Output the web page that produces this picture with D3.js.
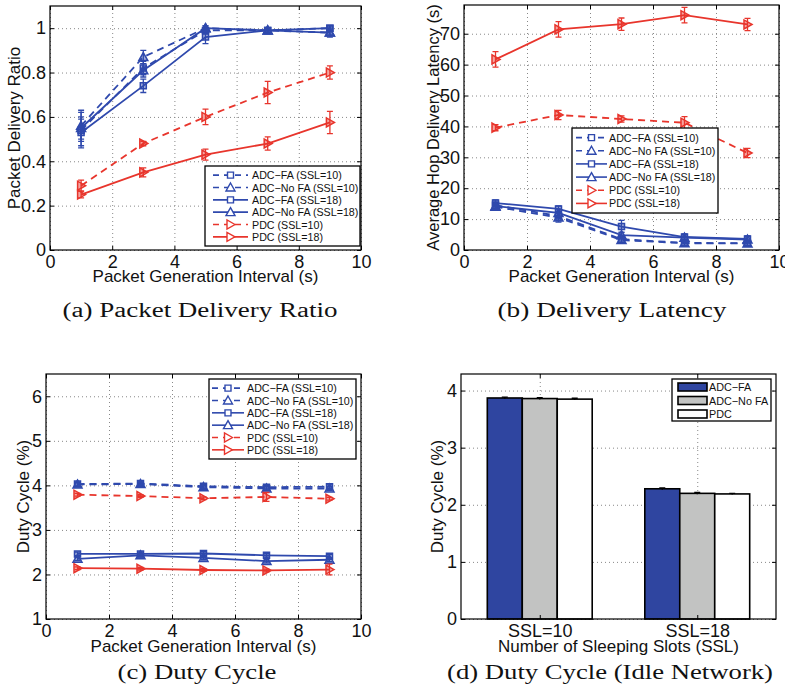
<!DOCTYPE html>
<html>
<head>
<meta charset="utf-8">
<script src="https://cdn.jsdelivr.net/npm/d3@7"></script>
<style>
  body { margin: 0; background: #fff; }
  svg { display: block; }
</style>
</head>
<body>
<div id="wrapper"></div>
<script>
// ---- data ----
const intervals = [1, 3, 5, 7, 9]
const seriesLabels = ["ADC\u2212FA (SSL=10)", "ADC\u2212No FA (SSL=10)", "ADC\u2212FA (SSL=18)",
  "ADC\u2212No FA (SSL=18)", "PDC (SSL=10)", "PDC (SSL=18)"]

// (a) packet delivery ratio, one row per series (same order as seriesLabels)
const pdrMeans = [
  [0.54, 0.82, 0.99, 0.99, 1.00],
  [0.56, 0.87, 1.00, 0.99, 0.98],
  [0.53, 0.74, 0.96, 0.99, 1.00],
  [0.55, 0.81, 1.00, 0.99, 0.98],
  [0.29, 0.48, 0.60, 0.71, 0.80],
  [0.25, 0.35, 0.43, 0.48, 0.575]
]
const pdrErrors = [
  [0.08, 0.03, 0.01, 0.01, 0.01],
  [0.07, 0.03, 0.01, 0.01, 0.01],
  [0.06, 0.03, 0.03, 0.01, 0.01],
  [0.05, 0.03, 0.01, 0.01, 0.02],
  [0.025, 0.01, 0.035, 0.05, 0.03],
  [0.015, 0.02, 0.025, 0.03, 0.05]
]

// (b) average hop delivery latency (s)
const latencyMeans = [
  [14.5, 11.0, 3.5, 2.3, 2.2],
  [14.0, 10.5, 3.2, 2.2, 2.1],
  [15.2, 13.3, 7.6, 4.2, 3.6],
  [14.2, 12.0, 4.8, 4.0, 3.4],
  [39.6, 43.7, 42.4, 41.2, 31.4],
  [61.7, 71.4, 73.1, 76.0, 73.0]
]
const latencyErrors = [
  [1.0, 1.5, 1.2, 0.8, 0.8],
  [1.0, 1.5, 1.0, 0.8, 0.8],
  [1.0, 1.0, 2.0, 1.0, 1.0],
  [1.0, 1.2, 1.0, 1.0, 1.0],
  [1.0, 1.5, 1.0, 2.0, 1.5],
  [2.5, 2.5, 2.0, 2.5, 2.0]
]

// (c) duty cycle (%)
const dutyMeans = [
  [4.03, 4.04, 3.98, 3.96, 3.97],
  [4.02, 4.03, 3.96, 3.93, 3.93],
  [2.46, 2.46, 2.47, 2.43, 2.41],
  [2.35, 2.43, 2.37, 2.30, 2.33],
  [3.79, 3.76, 3.71, 3.74, 3.70],
  [2.14, 2.13, 2.10, 2.09, 2.11]
]
const dutyErrors = [
  [0.04, 0.04, 0.04, 0.04, 0.04],
  [0.04, 0.04, 0.04, 0.04, 0.04],
  [0.04, 0.04, 0.04, 0.04, 0.04],
  [0.04, 0.04, 0.04, 0.04, 0.04],
  [0.03, 0.03, 0.03, 0.10, 0.03],
  [0.03, 0.03, 0.03, 0.03, 0.12]
]

// (d) idle network duty cycle bars
const sslGroups = ["SSL=10", "SSL=18"]
const barSchemes = ["ADC\u2212FA", "ADC\u2212No FA", "PDC"]
const idleDuty = [
  [3.87, 3.86, 3.85],
  [2.28, 2.20, 2.19]
]
const idleErrors = [
  [0.015, 0.015, 0.015],
  [0.015, 0.015, 0.01]
]

// ---- style ----
const blue = "#2f49ad"
const red = "#e8352c"
const barFill = ["#2f45a0", "#c2c3c2", "#fff"]
const seriesStyle = [
  {color: blue, dash: true, marker: "square"},
  {color: blue, dash: true, marker: "triangle"},
  {color: blue, dash: false, marker: "square"},
  {color: blue, dash: false, marker: "triangle"},
  {color: red, dash: true, marker: "right"},
  {color: red, dash: false, marker: "right"}
]
const sansFont = "'Liberation Sans', Arial, sans-serif"
const serifFont = "'Liberation Serif', 'Times New Roman', serif"

const svg = d3.select("#wrapper")
  .append("svg")
  .attr("width", 785)
  .attr("height", 694)

function markerPath(type, cx, cy) {
  if (type === "square") {
    const s = 3
    return `M${cx - s},${cy - s}H${cx + s}V${cy + s}H${cx - s}Z`
  }
  if (type === "triangle") {
    return `M${cx},${cy - 4.5}L${cx + 4.5},${cy + 3.5}L${cx - 4.5},${cy + 3.5}Z`
  }
  return `M${cx + 4.5},${cy}L${cx - 3.5},${cy - 4.5}L${cx - 3.5},${cy + 4.5}Z`
}

// frame: box, inward ticks on all sides, dotted grid
function drawFrame(g, box, xScale, yScale, xTicks, yTicks, xFormat, yFormat) {
  const w = box.right - box.left
  const h = box.bottom - box.top

  g.append("g")
    .attr("transform", `translate(0,${h})`)
    .call(d3.axisBottom(xScale).tickValues(xTicks).tickSize(-h).tickFormat(""))
    .call(a => a.select(".domain").remove())
    .call(a => a.selectAll("line").attr("stroke", "#888").attr("stroke-dasharray", "1,3"))
  g.append("g")
    .call(d3.axisLeft(yScale).tickValues(yTicks).tickSize(-w).tickFormat(""))
    .call(a => a.select(".domain").remove())
    .call(a => a.selectAll("line").attr("stroke", "#888").attr("stroke-dasharray", "1,3"))

  const frame = g.append("g").attr("class", "frame")
  frame.append("g")
    .attr("transform", `translate(0,${h})`)
    .call(d3.axisBottom(xScale).tickValues(xTicks).tickSizeInner(-4).tickSizeOuter(0)
      .tickPadding(5).tickFormat(xFormat))
  frame.append("g")
    .call(d3.axisTop(xScale).tickValues(xTicks).tickSizeInner(-4).tickSizeOuter(0).tickFormat(""))
  frame.append("g")
    .call(d3.axisLeft(yScale).tickValues(yTicks).tickSizeInner(-4).tickSizeOuter(0)
      .tickPadding(4).tickFormat(yFormat))
  frame.append("g")
    .attr("transform", `translate(${w},0)`)
    .call(d3.axisRight(yScale).tickValues(yTicks).tickSizeInner(-4).tickSizeOuter(0).tickFormat(""))
  frame.selectAll(".domain").remove()
  frame.selectAll(".tick line").attr("stroke", "#000")
  frame.selectAll(".tick text")
    .attr("fill", "#111")
    .style("font-size", "18px")
    .style("font-family", sansFont)

  frame.append("rect")
    .attr("width", w)
    .attr("height", h)
    .attr("fill", "none")
    .attr("stroke", "#000")
    .attr("stroke-width", 1.2)
}

function drawLabels(g, box, xLabel, yLabel, xLabelOffset, yLabelX, fontSize) {
  const w = box.right - box.left
  const h = box.bottom - box.top
  g.append("text")
    .attr("x", w / 2)
    .attr("y", h + xLabelOffset)
    .attr("text-anchor", "middle")
    .style("font-size", "17px")
    .style("font-family", sansFont)
    .attr("fill", "#111")
    .text(xLabel)
  g.append("text")
    .attr("transform", `translate(${yLabelX},${h / 2}) rotate(-90)`)
    .attr("text-anchor", "middle")
    .style("font-size", fontSize || "17px")
    .style("font-family", sansFont)
    .attr("fill", "#111")
    .text(yLabel)
}

function drawLinePanel(cfg) {
  const box = cfg.box
  const w = box.right - box.left
  const h = box.bottom - box.top
  const g = svg.append("g").attr("transform", `translate(${box.left},${box.top})`)
  const xScale = d3.scaleLinear().domain([0, 10]).range([0, w])
  const yScale = d3.scaleLinear().domain(cfg.yDomain).range([h, 0])

  drawFrame(g, box, xScale, yScale, d3.range(0, 11, 2), cfg.yTicks, d3.format("d"), cfg.yFormat)
  drawLabels(g, box, "Packet Generation Interval (s)", cfg.yLabel, cfg.xLabelOffset, cfg.yLabelX, cfg.yLabelSize)

  const line = d3.line()
    .x(d => xScale(d.x))
    .y(d => yScale(d.y))

  const plot = g.insert("g", ".frame")
  cfg.means.forEach((row, si) => {
    const st = seriesStyle[si]
    const pts = row.map((v, i) => ({x: intervals[i], y: v, e: cfg.errors[si][i]}))
    const sg = plot.append("g")
    sg.append("path")
      .datum(pts)
      .attr("d", line)
      .attr("fill", "none")
      .attr("stroke", st.color)
      .attr("stroke-width", 1.8)
      .attr("stroke-dasharray", st.dash ? "7,5" : null)
    sg.selectAll(".err")
      .data(pts)
      .join("path")
      .attr("class", "err")
      .attr("d", d => {
        const x = xScale(d.x), y0 = yScale(d.y - d.e), y1 = yScale(d.y + d.e)
        return `M${x},${y0}V${y1}M${x - 3},${y0}H${x + 3}M${x - 3},${y1}H${x + 3}`
      })
      .attr("fill", "none")
      .attr("stroke", st.color)
      .attr("stroke-width", 1.3)
    sg.selectAll(".mk")
      .data(pts)
      .join("path")
      .attr("class", "mk")
      .attr("d", d => markerPath(st.marker, xScale(d.x), yScale(d.y)))
      .attr("fill", st.color)
      .attr("fill-opacity", 0.45)
      .attr("stroke", st.color)
      .attr("stroke-width", 1.5)
  })

  // legend
  const lg = cfg.legend
  const lgG = svg.append("g").attr("transform", `translate(${lg.left},${lg.top})`)
  lgG.append("rect")
    .attr("width", lg.width)
    .attr("height", lg.height)
    .attr("fill", "#fff")
    .attr("stroke", "#000")
    .attr("stroke-width", 1.3)
  const rowH = (lg.height - 6) / seriesLabels.length
  seriesLabels.forEach((label, si) => {
    const st = seriesStyle[si]
    const cy = 3 + rowH * (si + 0.5)
    lgG.append("line")
      .attr("x1", lg.sampleX0)
      .attr("x2", lg.sampleX1)
      .attr("y1", cy)
      .attr("y2", cy)
      .attr("stroke", st.color)
      .attr("stroke-width", 1.6)
      .attr("stroke-dasharray", st.dash ? "6,5" : null)
    lgG.append("path")
      .attr("d", markerPath(st.marker, (lg.sampleX0 + lg.sampleX1) / 2, cy))
      .attr("fill", "#fff")
      .attr("stroke", st.color)
      .attr("stroke-width", 1.4)
    lgG.append("text")
      .attr("x", lg.textX)
      .attr("y", cy + 4)
      .style("font-size", "10.7px")
      .style("font-family", sansFont)
      .attr("fill", "#111")
      .text(label)
  })
}

function drawCaption(text, cx, y, width) {
  svg.append("text")
    .attr("x", cx)
    .attr("y", y)
    .attr("text-anchor", "middle")
    .attr("textLength", width)
    .attr("lengthAdjust", "spacingAndGlyphs")
    .style("font-size", "20px")
    .style("font-family", serifFont)
    .attr("fill", "#111")
    .text(text)
}

// (a)
drawLinePanel({
  box: {left: 50, right: 361, top: 6, bottom: 250},
  yDomain: [0, 1.1],
  yTicks: d3.range(0, 1.01, 0.2),
  yFormat: d => d === 0 ? "0" : (d === 1 ? "1" : d3.format(".1f")(d)),
  yLabel: "Packet Delivery Ratio",
  xLabelOffset: 32,
  yLabelX: -30,
  means: pdrMeans,
  errors: pdrErrors,
  legend: {left: 205, top: 166, width: 155, height: 80, sampleX0: 8, sampleX1: 43, textX: 47}
})

// (b)
drawLinePanel({
  box: {left: 464, right: 779, top: 5, bottom: 250},
  yDomain: [0, 79.3],
  yTicks: d3.range(0, 71, 10),
  yFormat: d3.format("d"),
  yLabel: "Average Hop Delivery Latency (s)",
  xLabelOffset: 32,
  yLabelX: -25,
  yLabelSize: "16.5px",
  means: latencyMeans,
  errors: latencyErrors,
  legend: {left: 572, top: 128, width: 146, height: 85, sampleX0: 4, sampleX1: 35, textX: 37}
})

// (c)
drawLinePanel({
  box: {left: 46, right: 361, top: 374, bottom: 619},
  yDomain: [1, 6.5],
  yTicks: d3.range(1, 6.1, 1),
  yFormat: d3.format("d"),
  yLabel: "Duty Cycle (%)",
  xLabelOffset: 33,
  yLabelX: -17,
  means: dutyMeans,
  errors: dutyErrors,
  legend: {left: 209, top: 379, width: 147, height: 80, sampleX0: 3, sampleX1: 35, textX: 38}
})

// (d) bars
{
  const box = {left: 461, right: 776, top: 374, bottom: 619}
  const w = box.right - box.left
  const h = box.bottom - box.top
  const g = svg.append("g").attr("transform", `translate(${box.left},${box.top})`)
  const xScale = d3.scaleLinear().domain([0.5, 2.5]).range([0, w])
  const yScale = d3.scaleLinear().domain([0, 4.29]).range([h, 0])
  const sub = d3.scaleBand().domain(barSchemes).range([-0.333, 0.333])

  drawFrame(g, box, xScale, yScale, [1, 2], d3.range(0, 4.1, 1),
    d => sslGroups[d - 1], d3.format("d"))
  drawLabels(g, box, "Number of Sleeping Slots (SSL)", "Duty Cycle (%)", 33, -18)

  // bars go over the grid, frame stays on top
  const barsG = g.insert("g", ".frame")
  idleDuty.forEach((row, gi) => {
    row.forEach((v, bi) => {
      const x0 = xScale(gi + 1 + sub(barSchemes[bi]))
      const x1 = xScale(gi + 1 + sub(barSchemes[bi]) + sub.bandwidth())
      barsG.append("rect")
        .attr("x", x0)
        .attr("y", yScale(v))
        .attr("width", x1 - x0)
        .attr("height", h - yScale(v))
        .attr("fill", barFill[bi])
        .attr("stroke", "#000")
        .attr("stroke-width", 1.6)
      const cx = (x0 + x1) / 2
      const e = idleErrors[gi][bi]
      barsG.append("path")
        .attr("d", `M${cx},${yScale(v - e)}V${yScale(v + e)}M${cx - 3},${yScale(v + e)}H${cx + 3}`)
        .attr("stroke", "#000")
        .attr("stroke-width", 1.3)
    })
  })

  const lgG = svg.append("g").attr("transform", "translate(672,379)")
  lgG.append("rect")
    .attr("width", 99)
    .attr("height", 42)
    .attr("fill", "#fff")
    .attr("stroke", "#000")
    .attr("stroke-width", 1.3)
  barSchemes.forEach((name, bi) => {
    const cy = 7.5 + bi * 13.5
    lgG.append("rect")
      .attr("x", 6)
      .attr("y", cy - 3.5)
      .attr("width", 29)
      .attr("height", 8)
      .attr("fill", barFill[bi])
      .attr("stroke", "#000")
      .attr("stroke-width", 1.6)
    lgG.append("text")
      .attr("x", 37)
      .attr("y", cy + 4.5)
      .style("font-size", "10.8px")
      .style("font-family", sansFont)
      .attr("fill", "#111")
      .text(name)
  })
}

drawCaption("(a) Packet Delivery Ratio", 200, 317, 275)
drawCaption("(b) Delivery Latency", 612, 317, 229)
drawCaption("(c) Duty Cycle", 197, 679, 159)
drawCaption("(d) Duty Cycle (Idle Network)", 610, 679, 326)
</script>
</body>
</html>
